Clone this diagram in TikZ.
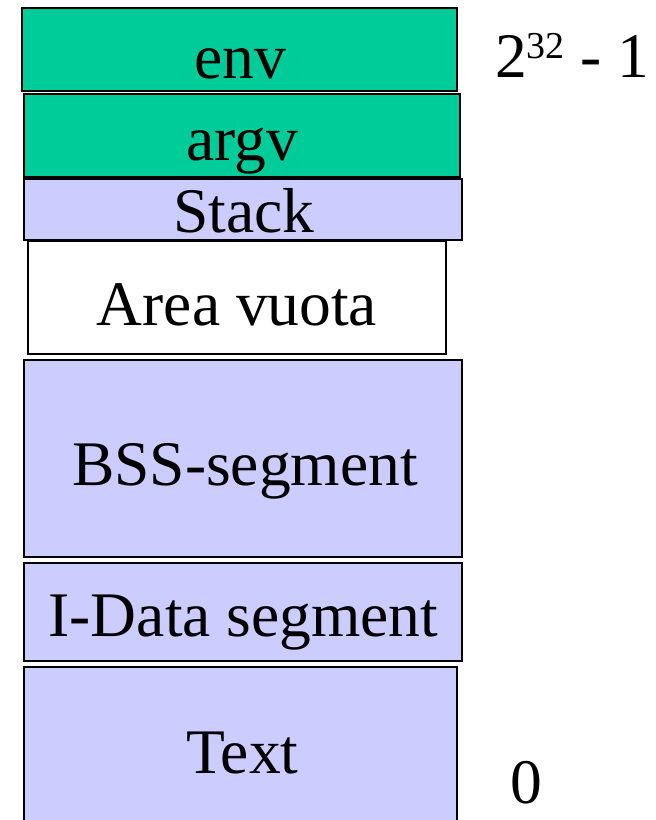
\documentclass[tikz,border=0pt]{standalone}
\usepackage{fontspec}
\setmainfont{Liberation Serif}
\usepackage{xcolor}
\usetikzlibrary{positioning}
\definecolor{envgreen}{HTML}{00CC99}
\definecolor{seglav}{HTML}{CCCCFF}

\begin{document}
\begin{tikzpicture}[
  x=1pt, y=-1pt,
  seg/.style={draw, line width=1.4pt, inner sep=0pt, outer sep=0pt,
              anchor=north west},
  greenseg/.style={seg, fill=envgreen},
  lavseg/.style={seg, fill=seglav},
  emptyseg/.style={seg, fill=white},
  lbl/.style={anchor=base, inner sep=0pt, font=\fontsize{63.5}{72}\selectfont},
  addr/.style={anchor=base west, inner sep=0pt, font=\fontsize{63.5}{72}\selectfont},
]
  \useasboundingbox (0,0) rectangle (656,820);

  % Segments, top to bottom
  \node[greenseg, minimum width=435pt, minimum height=83pt] (env) at (22,8) {};
  \node[greenseg, minimum width=436pt, minimum height=83pt] (argv) at (24,94) {};
  \node[lavseg, minimum width=438pt, minimum height=61pt] (stack) at (24,179) {};
  \node[emptyseg, minimum width=418pt, minimum height=113pt] (vuota) at (28,241) {};
  \node[lavseg, minimum width=438pt, minimum height=197pt] (bss) at (24,360) {};
  \node[lavseg, minimum width=438pt, minimum height=98pt] (idata) at (24,563) {};
  \node[lavseg, minimum width=433pt, minimum height=170pt] (text) at (24,667) {};

  % Labels
  \node[lbl] (envl) at (240,78) {env};
  \node[lbl] (argvl) at (242,160) {argv};
  \node[lbl] (stackl) at (244,232) {Stack};
  \node[lbl] (vuotal) at (237,325) {Area vuota};
  \node[lbl] (bssl) at (245,485) {BSS-segment};
  \node[lbl] (idatal) at (243.5,636) {I-Data segment};
  \node[lbl] (textl) at (242.5,773) {Text};

  % Addresses
  \node[addr] (top) at (495,77)
    {2\raisebox{19pt}{\fontsize{38}{40}\selectfont 32} - 1};
  \node[addr] (bottom) at (510,803) {0};
\end{tikzpicture}
\end{document}
